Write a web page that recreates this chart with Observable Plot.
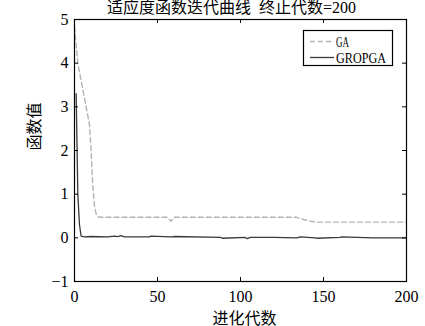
<!DOCTYPE html>
<html>
<head>
<meta charset="utf-8">
<script src="https://cdn.jsdelivr.net/npm/d3@7"></script>
<script src="https://cdn.jsdelivr.net/npm/@observablehq/plot@0.6"></script>
<style>
  html, body { margin: 0; padding: 0; background: #fff; }
  #chart { position: relative; width: 425px; height: 326px; overflow: hidden; }
</style>
</head>
<body>
<div id="chart"></div>
<script>
// ---- data ----
const titleText = "适应度函数迭代曲线  终止代数=200";
const xLabel = "进化代数";
const yLabel = "函数值";
const seriesNames = ["GA", "GROPGA"];
const xTicks = [0, 50, 100, 150, 200];
const yTicks = [-1, 0, 1, 2, 3, 4, 5];

const gaX = [0, 2, 5, 9, 10, 11, 12, 13, 14, 15, 56, 57, 58, 60, 134, 138, 142, 146, 200];
const gaY = [4.83, 4.0, 3.4, 2.6, 2.0, 1.2, 0.75, 0.55, 0.49, 0.47, 0.47, 0.43, 0.38, 0.47, 0.47, 0.42, 0.38, 0.36, 0.36];

const gropX = [1, 2, 3, 4, 6, 10, 20, 24, 26, 28, 30, 45, 46, 58, 60, 88, 89, 103, 104, 106, 120, 134, 136, 145, 146, 160, 161, 180, 200];
const gropY = [3.3, 1.0, 0.3, 0.04, 0.02, 0.03, 0.02, 0.04, 0.03, 0.05, 0.02, 0.02, 0.04, 0.02, 0.03, 0.01, -0.01, 0.01, -0.02, 0.01, 0.01, 0.0, 0.02, 0.0, -0.01, 0.01, 0.02, 0.0, 0.0];

const ga = gaX.map((x, i) => ({x, y: gaY[i]}));
const grop = gropX.map((x, i) => ({x, y: gropY[i]}));

const serif = "'Liberation Serif', 'Noto Sans CJK SC', serif";

const plot = Plot.plot({
  width: 425,
  height: 326,
  marginLeft: 74,
  marginRight: 19,
  marginTop: 19,
  marginBottom: 45,
  style: {fontFamily: serif, fontSize: "16px", background: "#fff", color: "#000"},
  x: {domain: [0, 200]},
  y: {domain: [-1, 5]},
  marks: [
    Plot.line(ga, {x: "x", y: "y", stroke: "#b4b4b4", strokeWidth: 1.4, strokeDasharray: "5,3"}),
    Plot.line(grop, {x: "x", y: "y", stroke: "#3a3a3a", strokeWidth: 1.3}),
    Plot.frame({stroke: "#000", strokeWidth: 1.2}),
    Plot.axisX(xTicks, {anchor: "bottom", tickSize: 0, tickPadding: 9, label: null, fontSize: 16}),
    Plot.axisY(yTicks, {anchor: "left", tickSize: 0, tickPadding: 6, label: null, fontSize: 16}),
    Plot.tickX(xTicks, {x: d => d, insetTop: 258, stroke: "#000"}),
    Plot.tickX(xTicks, {x: d => d, insetBottom: 258, stroke: "#000"}),
    Plot.tickY(yTicks, {y: d => d, insetRight: 328, stroke: "#000"}),
    Plot.tickY(yTicks, {y: d => d, insetLeft: 328, stroke: "#000"}),
    Plot.text([titleText], {text: d => d, frameAnchor: "top", dx: -9, dy: -7, lineAnchor: "bottom", fontSize: 16, fill: "#000"}),
    Plot.text([xLabel], {text: d => d, frameAnchor: "bottom", dx: 4, dy: 42, fontSize: 16, fill: "#000"}),
    Plot.text([yLabel], {text: d => d, frameAnchor: "left", dx: -40, rotate: -90, fontSize: 16, fill: "#000"})
  ]
});

document.getElementById("chart").appendChild(plot);

// legend box drawn inside the plot svg
const svg = d3.select(plot);
const lg = svg.append("g").attr("font-family", serif).attr("font-size", 15).attr("text-anchor", "start");
lg.append("rect").attr("x", 303.5).attr("y", 30.5).attr("width", 89).attr("height", 35)
  .attr("fill", "#fff").attr("stroke", "#000").attr("stroke-width", 1.2);
const rows = [
  {name: seriesNames[0], stroke: "#b4b4b4", dash: "5,3", ly: 41.5, ty: 46.5, len: 13},
  {name: seriesNames[1], stroke: "#3a3a3a", dash: null, ly: 57.5, ty: 62.5, len: 50}
];
rows.forEach(r => {
  lg.append("line").attr("x1", 310).attr("x2", 334).attr("y1", r.ly).attr("y2", r.ly)
    .attr("stroke", r.stroke).attr("stroke-width", 1.3).attr("stroke-dasharray", r.dash);
  lg.append("text").attr("x", 336).attr("y", r.ty).attr("text-anchor", "start")
    .attr("textLength", r.len).attr("lengthAdjust", "spacingAndGlyphs").text(r.name);
});
</script>
</body>
</html>
